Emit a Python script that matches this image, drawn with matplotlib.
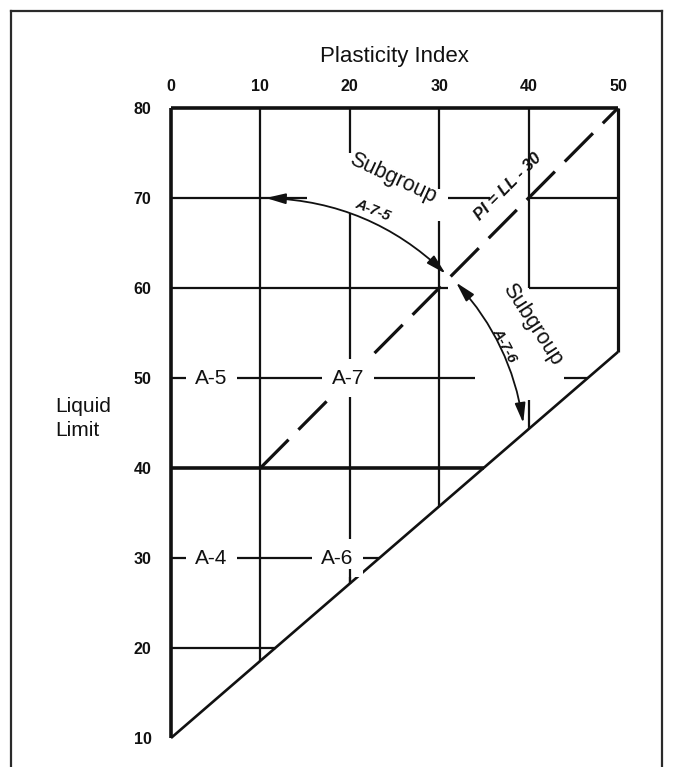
import matplotlib
matplotlib.use("Agg")
import matplotlib.pyplot as plt
from matplotlib.patches import FancyArrowPatch
from matplotlib.lines import Line2D

plt.rcParams["font.family"] = ["Liberation Sans", "DejaVu Sans"]

# ---- data -------------------------------------------------------------
PI_TICKS = [0, 10, 20, 30, 40, 50]
LL_TICKS = [10, 20, 30, 40, 50, 60, 70, 80]

# lower sloping boundary of the chart field (PI, LL)
BOUNDARY_PI = [0, 50]
BOUNDARY_LL = [10, 52.9]

# horizontal grid pieces: LL value -> list of (PI from, PI to)
H_LINES = {
    70: [(0, 15.2), (31, 35.7), (40, 50)],
    60: [(0, 31), (40, 50)],
    50: [(0, 34), (44, 46.6)],
    40: [(0, 35)],
    30: [(0, 23.3)],
    20: [(0, 11.7)],
}
# vertical grid pieces: PI value -> list of (LL from, LL to)
V_LINES = {
    10: [(18.6, 80)],
    20: [(27.1, 68.3), (75, 80)],
    30: [(35.7, 67.5), (71, 80)],
    40: [(44.3, 47.6), (60, 80)],
}

# dividing line PI = LL - 30
DIVIDE_PI = [10, 50]
DIVIDE_LL = [40, 80]

# group labels
GROUP_NAMES = ["A-5", "A-7", "A-4", "A-6"]
GROUP_PI = [4.5, 19.8, 4.5, 18.6]
GROUP_LL = [50, 50, 30, 30]

# subgroup arrows: start (PI, LL), end (PI, LL), bend
ARROW_START = [(10.6, 70.0), (31.9, 60.6)]
ARROW_END = [(30.7, 61.6), (39.4, 45.0)]
ARROW_BEND = [-0.19, -0.15]

# ---- figure -----------------------------------------------------------
W, H = 675, 767
fig = plt.figure(figsize=(W / 100, H / 100), dpi=100)
fig.patch.set_facecolor("white")

# outer frame
frame_kw = dict(transform=fig.transFigure, color="#2a2a2a", lw=1.6)
fig.add_artist(Line2D([11 / W, 11 / W], [0, 1 - 11 / H], **frame_kw))
fig.add_artist(Line2D([11 / W, 662 / W], [1 - 11 / H, 1 - 11 / H], **frame_kw))
fig.add_artist(Line2D([662 / W, 662 / W], [0, 1 - 11 / H], **frame_kw))

ax = fig.add_axes([171 / W, (H - 738) / H, 447 / W, 630 / H])
ax.set_xlim(0, 50)
ax.set_ylim(10, 80)
for s in ax.spines.values():
    s.set_visible(False)

ink = "#111111"
line_kw = dict(color=ink, solid_capstyle="butt", clip_on=False, zorder=2)

# chart outline
ax.plot([0, 0], [10, 80], lw=2.6, **line_kw)
ax.plot([0, 50], [80, 80], lw=2.6, **line_kw)
ax.plot([50, 50], [BOUNDARY_LL[1], 80], lw=2.3, **line_kw)
ax.plot(BOUNDARY_PI, BOUNDARY_LL, lw=1.9, **line_kw)

# grid pieces
for ll, pieces in H_LINES.items():
    for p0, p1 in pieces:
        ax.plot([p0, p1], [ll, ll], lw=2.6 if ll == 40 else 1.6, **line_kw)
for pi, pieces in V_LINES.items():
    for l0, l1 in pieces:
        ax.plot([pi, pi], [l0, l1], lw=1.6, **line_kw)

# PI = LL - 30 dashed divider
ax.plot(DIVIDE_PI, DIVIDE_LL, lw=2.3, color=ink, linestyle=(0, (12.5, 4.4)),
        dash_capstyle="butt", clip_on=False, zorder=2)

# subgroup arrows
for a, b, r in zip(ARROW_START, ARROW_END, ARROW_BEND):
    arr = FancyArrowPatch(a, b, connectionstyle=f"arc3,rad={r}",
                          arrowstyle="<|-|>,head_length=0.75,head_width=0.2",
                          mutation_scale=16, lw=1.3, color=ink,
                          shrinkA=0, shrinkB=0, zorder=3, clip_on=False)
    ax.add_patch(arr)

# group labels, blanking the lines behind them
for name, x, y in zip(GROUP_NAMES, GROUP_PI, GROUP_LL):
    ax.text(x, y, name, ha="center", va="center", fontsize=15, color=ink,
            zorder=5, bbox=dict(boxstyle="square,pad=0.45", fc="white", ec="none"))

# short piece of the PI = 20 line just below the A-6 label
ax.plot([20, 20], [27.1, 28.8], lw=1.6, zorder=6, **{k: v for k, v in line_kw.items() if k != "zorder"})

ax.text(24.8, 72.2, "Subgroup", rotation=-25, ha="center", va="center",
        fontsize=15.5, color=ink, zorder=5)
ax.text(22.6, 68.7, "A-7-5", rotation=-22, ha="center", va="center",
        fontsize=10.5, fontweight="bold", fontstyle="italic", color=ink, zorder=5)
ax.text(40.4, 55.9, "Subgroup", rotation=-57, ha="center", va="center",
        fontsize=15.5, color=ink, zorder=5)
ax.text(37.3, 53.6, "A-7-6", rotation=-62, ha="center", va="center",
        fontsize=10.5, fontweight="bold", fontstyle="italic", color=ink, zorder=5)
ax.text(37.7, 71.3, "PI = LL - 30", rotation=45, ha="center", va="center",
        fontsize=12, fontweight="bold", fontstyle="italic", color=ink, zorder=5)

# axes labelling
ax.xaxis.tick_top()
ax.xaxis.set_label_position("top")
ax.set_xticks(PI_TICKS)
ax.set_yticks(LL_TICKS)
ax.tick_params(axis="x", length=0, pad=10, labelsize=11.5, labelcolor=ink)
ax.tick_params(axis="y", length=0, pad=14, labelsize=11.5, labelcolor=ink)
for t in ax.get_xticklabels() + ax.get_yticklabels():
    t.set_fontweight("bold")

ax.set_xlabel("Plasticity Index", fontsize=16, color=ink, labelpad=12)
ax.set_ylabel("Liquid\nLimit", rotation=0, ha="left", va="center",
              fontsize=15, color=ink, linespacing=1.35)
ax.yaxis.set_label_coords((55 - 171) / 447, (45.5 - 10) / 70)

fig.savefig("out.png", dpi=100, facecolor="white")
